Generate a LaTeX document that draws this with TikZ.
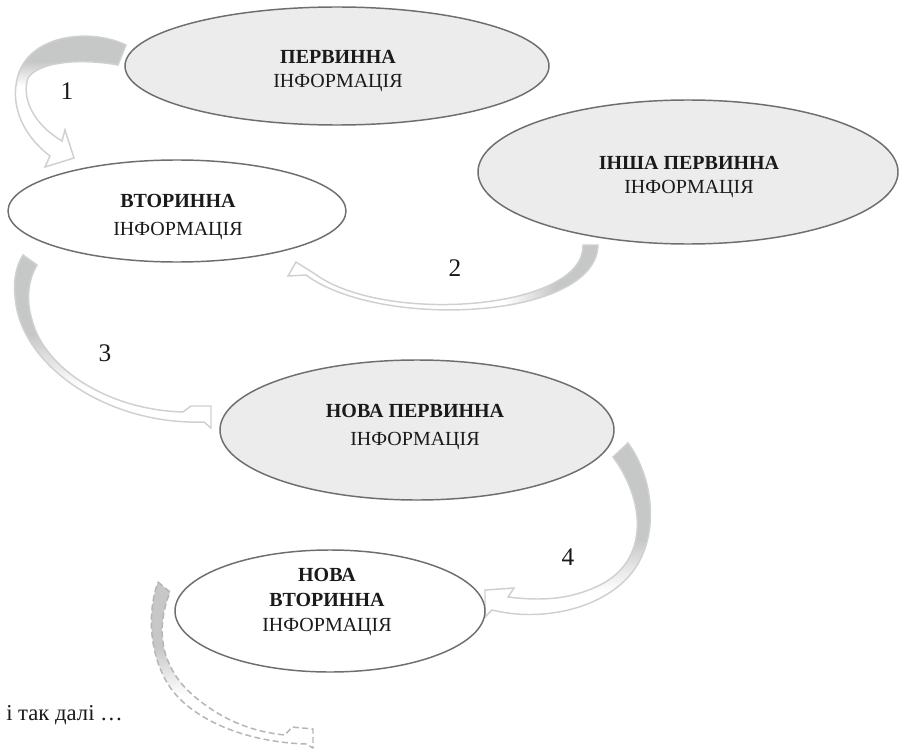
\documentclass[tikz,border=0pt]{standalone}
\usepackage{fontspec}
\setmainfont{Liberation Serif}
\usetikzlibrary{shapes.geometric}

\definecolor{ellline}{HTML}{6E6E6E}
\definecolor{ellfill}{HTML}{ECECEC}
\definecolor{arrgray}{HTML}{C6C8C7}
\definecolor{arrline}{HTML}{D0D0D0}
\definecolor{dashline}{HTML}{B5B5B5}
\definecolor{inktext}{HTML}{1A1A1A}

% outlines of the tapered curved arrows (units: px, y downwards)
\def\ArrOne{(126,45) .. controls (90,28) and (35,35) .. (20,70)
  .. controls (8,100) and (20,133) .. (50,156) -- (45,167) -- (74,158)
  -- (65,130) -- (62,141) .. controls (30,122) and (22,95) .. (28,78)
  .. controls (38,62) and (80,58) .. (118,65) -- cycle}
\def\ArrTwo{(583,245) -- (598,245) .. controls (596,320) and (380,330) .. (306,275)
  -- (288,276) -- (296,262) -- (315,274)
  .. controls (385,325) and (585,310) .. (583,245) -- cycle}
\def\ArrThree{(23,255) -- (37,265) .. controls (28,280) and (26,300) .. (32,320)
  .. controls (45,370) and (110,410) .. (183,412) -- (191,406) -- (211,406)
  -- (211,428) -- (204,422) .. controls (110,425) and (30,370) .. (17,310)
  .. controls (12,285) and (15,268) .. (23,255) -- cycle}
\def\ArrFour{(628,443) -- (613,457) .. controls (645,500) and (650,560) .. (600,585)
  .. controls (570,600) and (540,601) .. (508,597) -- (514,588) -- (485,590)
  -- (485,617) -- (492,610) .. controls (540,622) and (600,610) .. (630,575)
  .. controls (660,540) and (655,480) .. (628,443) -- cycle}
\def\ArrFive{(158,582) -- (170,592) .. controls (157,625) and (157,665) .. (195,697)
  .. controls (225,722) and (255,732) .. (285,735) -- (292,727) -- (313,729)
  -- (313,748) -- (306,744) .. controls (245,742) and (195,720) .. (172,690)
  .. controls (150,660) and (146,615) .. (158,582) -- cycle}

\begin{document}
\begin{tikzpicture}[x=0.75pt,y=-0.75pt,
  oval/.style={ellipse, draw=ellline, line width=1.1pt, inner sep=0pt},
  greyoval/.style={oval, fill=ellfill},
  whiteoval/.style={oval, fill=white},
  caption/.style={align=center, text=inktext, inner sep=0pt,
    font=\fontsize{15}{18.5}\selectfont},
  stepno/.style={text=inktext, inner sep=0pt, font=\fontsize{19}{22}\selectfont},
  arrowedge/.style={draw=arrline, line width=1.1pt, line join=miter},
  dashedge/.style={draw=dashline, line width=1.1pt, dash pattern=on 4.5pt off 2.5pt}]

\useasboundingbox[fill=white] (0,0) rectangle (900,749);

% ---- curved arrows: grey at the tail, fading to white towards the head ----
\begin{scope}
  \clip \ArrOne;
  \fill[white] (0,0) rectangle (200,200);
  \fill[arrgray] (0,0) rectangle (200,62);
  \shade[top color=arrgray, bottom color=white] (0,61.5) rectangle (200,86);
\end{scope}
\path[arrowedge] \ArrOne;

\begin{scope}
  \clip \ArrTwo;
  \fill[white] (250,230) rectangle (620,330);
  \fill[arrgray] (555,230) rectangle (620,330);
  \shade[left color=white, right color=arrgray] (505,230) rectangle (555.5,330);
\end{scope}
\path[arrowedge] \ArrTwo;

\begin{scope}
  \clip \ArrThree;
  \fill[white] (0,240) rectangle (230,440);
  \fill[arrgray] (0,240) rectangle (230,335);
  \shade[top color=arrgray, bottom color=white] (0,334.5) rectangle (230,388);
\end{scope}
\path[arrowedge] \ArrThree;

\begin{scope}
  \clip \ArrFour;
  \fill[white] (470,430) rectangle (680,630);
  \fill[arrgray] (470,430) rectangle (680,540);
  \shade[top color=arrgray, bottom color=white] (470,539.5) rectangle (680,592);
\end{scope}
\path[arrowedge] \ArrFour;

\begin{scope}
  \clip \ArrFive;
  \fill[white] (130,570) rectangle (330,749);
  \fill[arrgray] (130,570) rectangle (330,648);
  \shade[top color=arrgray, bottom color=white] (130,647.5) rectangle (330,696);
\end{scope}
\path[dashedge] \ArrFive;

% ---- ellipses ----
\node[greyoval, minimum width=318pt, minimum height=88.5pt] (pervinna) at (337,66) {};
\node[greyoval, minimum width=315pt, minimum height=108pt] (insha) at (688,172) {};
\node[whiteoval, minimum width=253.5pt, minimum height=76.5pt] (vtorynna) at (177,211) {};
\node[greyoval, minimum width=295.5pt, minimum height=105pt] (novapervinna) at (417,430) {};
\node[whiteoval, minimum width=232.5pt, minimum height=91.5pt] (novavtorynna) at (330,611) {};

% ---- captions ----
\node[caption] (tpervinna) at (338,71) {\textbf{ПЕРВИННА}\\ІНФОРМАЦІЯ};
\node[caption] (tinsha) at (689,177) {\textbf{ІНША ПЕРВИННА}\\ІНФОРМАЦІЯ};
\node[caption] (tvtorynna) at (178,217) {\textbf{ВТОРИННА}\\[3pt]ІНФОРМАЦІЯ};
\node[caption] (tnovapervinna) at (415,427) {\textbf{НОВА ПЕРВИННА}\\[2pt]ІНФОРМАЦІЯ};
\node[caption] (tnovavtorynna) at (327,602) {\textbf{НОВА}\\\textbf{ВТОРИННА}\\ІНФОРМАЦІЯ};

% ---- step numbers ----
\node[stepno] (n1) at (67,91) {1};
\node[stepno] (n2) at (455,268) {2};
\node[stepno] (n3) at (105,353) {3};
\node[stepno] (n4) at (568,557) {4};

\node[text=inktext, inner sep=0pt, anchor=west, font=\fontsize{17}{20}\selectfont]
  (etc) at (6,715) {і так далі …};

\end{tikzpicture}
\end{document}
